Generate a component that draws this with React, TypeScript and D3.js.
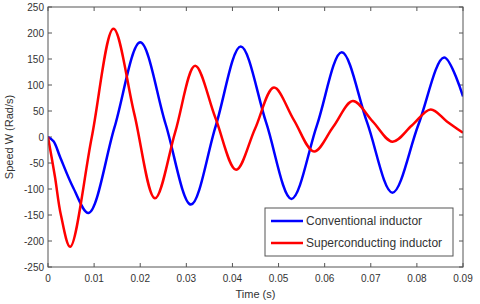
import React from "react";
import * as d3 from "d3";

// values (time in s, speed in rad/s)
const conventionalT = [0, 0.0012, 0.0026, 0.0055, 0.0088, 0.0144, 0.02, 0.0255, 0.031, 0.0364, 0.0418, 0.0473, 0.0528, 0.0583, 0.0637, 0.0692, 0.0747, 0.0803, 0.0859, 0.09];
const conventionalV = [0, -8, -38, -98, -146, 18, 182, 25, -130, 22, 174, 28, -119, 22, 163, 28, -107, 23, 153, 78];

const superT = [0, 0.0015, 0.0028, 0.0048, 0.0095, 0.0142, 0.0187, 0.0232, 0.0276, 0.0319, 0.0363, 0.0408, 0.0449, 0.049, 0.0533, 0.0577, 0.0619, 0.0661, 0.0704, 0.0747, 0.0789, 0.083, 0.0865, 0.09];
const superV = [0, -76, -150, -211, 0, 208, 45, -118, 10, 137, 37, -63, 16, 95, 33, -28, 20, 69, 30, -9, 22, 53, 30, 8];

const xTicks = [0, 0.01, 0.02, 0.03, 0.04, 0.05, 0.06, 0.07, 0.08, 0.09];
const yTicks = [-250, -200, -150, -100, -50, 0, 50, 100, 150, 200, 250];

const seriesNames = ["Conventional inductor", "Superconducting inductor"];
const seriesColors = ["#0000ff", "#ff0000"];

const W = 480;
const H = 304;
const margin = { top: 7, right: 17, bottom: 37, left: 48 };
const font = "'Liberation Sans', Arial, sans-serif";
const axisColor = "#555";
const textColor = "#333";

export default function App() {
  const x = d3.scaleLinear().domain([0, 0.09]).range([margin.left, W - margin.right]);
  const y = d3.scaleLinear().domain([-250, 250]).range([H - margin.bottom, margin.top]);

  const line = d3
    .line<[number, number]>()
    .x((d) => x(d[0]))
    .y((d) => y(d[1]))
    .curve(d3.curveCatmullRom.alpha(0.5));

  const series = [
    conventionalT.map((t, i) => [t, conventionalV[i]] as [number, number]),
    superT.map((t, i) => [t, superV[i]] as [number, number]),
  ];

  const x0 = margin.left, x1 = W - margin.right;
  const y0 = margin.top, y1 = H - margin.bottom;
  const tk = 4;

  const legX = 265, legY = 208, legW = 188, legH = 48;

  return (
    <svg width={W} height={H} style={{ position: "absolute", left: 0, top: 0, background: "#fff" }} fontFamily={font}>
      <rect x={0} y={0} width={W} height={H} fill="#fff" />
      <defs>
        <clipPath id="plot">
          <rect x={x0} y={y0} width={x1 - x0} height={y1 - y0} />
        </clipPath>
      </defs>

      {/* ticks on all four sides, pointing in */}
      {xTicks.map((t) => (
        <g key={"xt" + t}>
          <line x1={x(t)} x2={x(t)} y1={y1} y2={y1 - tk} stroke={axisColor} />
          <line x1={x(t)} x2={x(t)} y1={y0} y2={y0 + tk} stroke={axisColor} />
          <text x={x(t)} y={y1 + 15} textAnchor="middle" fontSize={10} fill={textColor}>
            {t === 0 ? "0" : t.toFixed(2)}
          </text>
        </g>
      ))}
      {yTicks.map((v) => (
        <g key={"yt" + v}>
          <line x1={x0} x2={x0 + tk} y1={y(v)} y2={y(v)} stroke={axisColor} />
          <line x1={x1} x2={x1 - tk} y1={y(v)} y2={y(v)} stroke={axisColor} />
          <text x={x0 - 4} y={y(v) + 3.5} textAnchor="end" fontSize={10} fill={textColor}>
            {v}
          </text>
        </g>
      ))}

      <g clipPath="url(#plot)">
        {series.map((s, i) => (
          <path key={i} d={line(s) ?? ""} fill="none" stroke={seriesColors[i]} strokeWidth={2.5} />
        ))}
      </g>

      <rect x={x0} y={y0} width={x1 - x0} height={y1 - y0} fill="none" stroke={axisColor} strokeWidth={1} />

      <text x={(x0 + x1) / 2} y={298} textAnchor="middle" fontSize={11} fill={textColor}>
        Time (s)
      </text>
      <text
        transform={`translate(13, ${(y0 + y1) / 2}) rotate(-90)`}
        textAnchor="middle"
        fontSize={11}
        fill={textColor}
      >
        Speed W (Rad/s)
      </text>

      <g>
        <rect x={legX} y={legY} width={legW} height={legH} fill="#fff" stroke={axisColor} />
        {seriesNames.map((name, i) => (
          <g key={name}>
            <line x1={legX + 6} x2={legX + 38} y1={legY + 13 + i * 22} y2={legY + 13 + i * 22} stroke={seriesColors[i]} strokeWidth={2.5} />
            <text x={legX + 41} y={legY + 17 + i * 22} fontSize={12} fill={textColor}>
              {name}
            </text>
          </g>
        ))}
      </g>
    </svg>
  );
}
